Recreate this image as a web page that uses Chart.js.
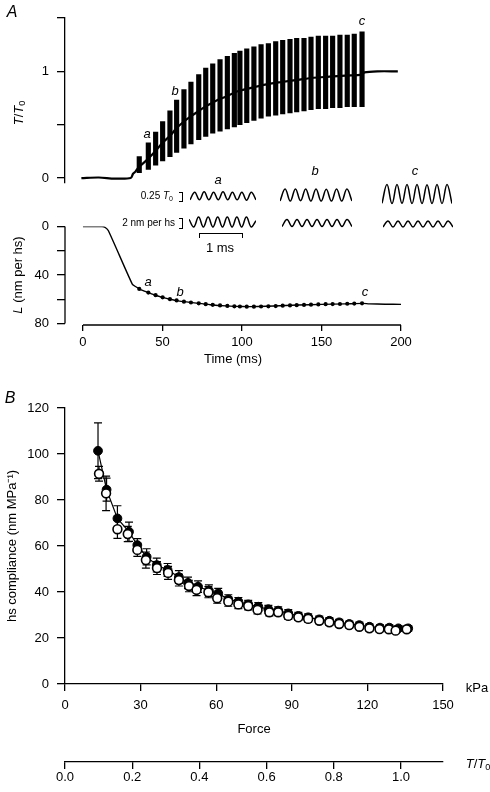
<!DOCTYPE html>
<html>
<head>
<meta charset="utf-8">
<script src="https://cdn.jsdelivr.net/npm/chart.js@4.4.1/dist/chart.umd.min.js"></script>
<style>
  html, body { margin: 0; padding: 0; background: #fff; }
  body { width: 490px; height: 792px; position: relative; overflow: hidden; font-family: "Liberation Sans", Arial, sans-serif; color: #000; }
  canvas { position: absolute; }
  .lbl { position: absolute; transform: translate(-50%, -50%); white-space: nowrap; font-size: 13px; line-height: 1; }
  .it { font-style: italic; }
  .rot { transform: translate(-50%, -50%) rotate(-90deg); }
  .rgt { transform: translate(-100%, -50%); }
  .small { font-size: 10px; }
  .bracket { position: absolute; border: 1.3px solid #000; border-left: none; width: 3px; }
  sub { font-size: 70%; vertical-align: -0.25em; line-height: 0; }
</style>
</head>
<body>
<canvas id="tensionChart" style="left:0;top:0" width="420" height="192"></canvas>
<canvas id="lengthChart" style="left:0;top:190px" width="420" height="180"></canvas>
<canvas id="complianceChart" style="left:0;top:380px" width="490" height="412"></canvas>

<canvas id="insetTa" style="left:190px;top:184px" width="66" height="24"></canvas>
<canvas id="insetTb" style="left:280px;top:183px" width="72" height="24"></canvas>
<canvas id="insetTc" style="left:382px;top:182px" width="70" height="24"></canvas>
<canvas id="insetLa" style="left:189px;top:210px" width="67" height="24"></canvas>
<canvas id="insetLb" style="left:282px;top:211px" width="70" height="24"></canvas>
<canvas id="insetLc" style="left:383px;top:212px" width="70" height="24"></canvas>

<div class="lbl it" style="left:12px;top:12px;font-size:16px">A</div>
<div class="lbl it" style="left:10px;top:398px;font-size:16px">B</div>
<div class="lbl rot" style="left:18px;top:113px"><i>T</i>/<i>T</i><sub>0</sub></div>
<div class="lbl rot" style="left:17px;top:275px"><i>L</i> (nm per hs)</div>

<div class="lbl it" style="left:147px;top:133px">a</div>
<div class="lbl it" style="left:175px;top:90px">b</div>
<div class="lbl it" style="left:362px;top:20px">c</div>
<div class="lbl it" style="left:148px;top:281px">a</div>
<div class="lbl it" style="left:180px;top:291px">b</div>
<div class="lbl it" style="left:365px;top:291px">c</div>
<div class="lbl it" style="left:218px;top:179px">a</div>
<div class="lbl it" style="left:315px;top:170px">b</div>
<div class="lbl it" style="left:415px;top:170px">c</div>

<div class="lbl rgt small" style="left:173px;top:196px">0.25 <i>T</i><sub>0</sub></div>
<div class="bracket" style="left:179px;top:192px;height:8px"></div>
<div class="lbl rgt small" style="left:175px;top:223px">2 nm per hs</div>
<div class="bracket" style="left:179px;top:218px;height:9px"></div>
<div style="position:absolute;left:199px;top:233px;width:42px;height:4px;border:1.3px solid #000;border-bottom:none"></div>
<div class="lbl" style="left:220px;top:247px">1 ms</div>

<div class="lbl" style="left:477px;top:687px">kPa</div>
<div class="lbl" style="left:478px;top:763px"><i>T</i>/<i>T</i><sub>0</sub></div>

<script>
// Panel A: tension trace (mean line + oscillation bursts)
const tensionTime = [-1, 10, 20, 30, 31.5, 33, 35, 41, 46, 50, 55, 59, 63.5, 68, 73, 77, 82, 86, 91, 95, 99, 107, 116, 125, 135, 145, 155, 165, 175.5, 177, 185, 198];
const tensionMean = [0, 0.005, -0.005, 0, 0.04, 0.06, 0.1, 0.18, 0.26, 0.33, 0.4, 0.47, 0.53, 0.58, 0.63, 0.67, 0.71, 0.74, 0.77, 0.8, 0.82, 0.85, 0.88, 0.9, 0.92, 0.94, 0.95, 0.96, 0.97, 0.99, 1.0, 1.0];

const burstTime = [35.4, 41.1, 45.7, 50.1, 54.7, 58.9, 63.5, 67.9, 72.8, 77.2, 81.6, 86.2, 90.8, 95.2, 98.7, 103.0, 107.5, 112.0, 116.6, 121.2, 125.6, 130.2, 134.4, 139.0, 143.4, 148.0, 152.6, 157.0, 161.6, 166.2, 170.6, 175.5];
const burstHigh = [0.2, 0.33, 0.43, 0.53, 0.63, 0.73, 0.83, 0.9, 0.97, 1.03, 1.07, 1.11, 1.14, 1.17, 1.19, 1.21, 1.23, 1.25, 1.26, 1.28, 1.29, 1.3, 1.31, 1.31, 1.32, 1.33, 1.33, 1.33, 1.34, 1.34, 1.35, 1.37];
const burstLow = [0.05, 0.08, 0.12, 0.16, 0.2, 0.24, 0.28, 0.32, 0.36, 0.39, 0.42, 0.44, 0.46, 0.48, 0.5, 0.52, 0.54, 0.56, 0.58, 0.59, 0.6, 0.61, 0.62, 0.63, 0.64, 0.65, 0.65, 0.66, 0.66, 0.67, 0.67, 0.67];

// Panel A: half-sarcomere length trace
const lengthTime = [0, 12, 14, 16, 31, 33, 36, 40, 45, 50, 55, 60, 65, 70, 80, 90, 100, 110, 120, 135, 150, 165, 176, 180, 190, 200];
const lengthValue = [0, 0, 0.8, 3.5, 47.5, 49.5, 51.8, 54, 56.5, 58.4, 60, 61.3, 62.2, 63, 64.5, 65.5, 66, 66, 65.6, 64.8, 64.2, 63.8, 63.4, 63.8, 64.1, 64.2];
const lengthAtBurst = [51.5, 54.5, 56.6, 58.4, 59.9, 61.0, 62.0, 62.7, 63.4, 64.1, 64.6, 65.1, 65.5, 65.8, 66.0, 66.1, 66.1, 66.0, 65.8, 65.6, 65.3, 65.1, 64.9, 64.7, 64.5, 64.3, 64.1, 64.0, 63.9, 63.7, 63.6, 63.4];

// Insets a, b, c (ms, T/T0 and nm per hs)
const insetTime = [0, 0.11, 0.22, 0.33, 0.44, 0.55, 0.66, 0.77, 0.88, 0.99, 1.1, 1.21, 1.32, 1.43, 1.54];
const insetTensionA = [-0.12, 0.12, -0.12, 0.13, -0.12, 0.12, -0.12, 0.13, -0.12, 0.12, -0.12, 0.12, -0.13, 0.12, -0.12];
const insetTensionB = [-0.19, 0.19, -0.19, 0.19, -0.18, 0.19, -0.19, 0.19, -0.19, 0.18, -0.19, 0.19, -0.19, 0.19, -0.19];
const insetTensionC = [-0.29, 0.3, -0.3, 0.3, -0.29, 0.3, -0.3, 0.3, -0.3, 0.29, -0.3, 0.3, -0.3, 0.3, -0.3];
const insetLengthA = [0.6, -1.1, 1.1, -1.1, 1.1, -1.1, 1.1, -1.1, 1.1, -1.1, 1.1, -1.1, 1.1, -1.1, 0.3];
const insetLengthB = [-0.78, 0.78, -0.78, 0.78, -0.78, 0.78, -0.78, 0.78, -0.78, 0.78, -0.78, 0.78, -0.78, 0.78, -0.78];
const insetLengthC = [-0.67, 0.67, -0.67, 0.67, -0.67, 0.67, -0.67, 0.67, -0.67, 0.67, -0.67, 0.67, -0.67, 0.67, -0.67];

// Panel B: compliance vs force
const filledForce = [13.1, 16.5, 20.8, 25.4, 28.7, 32.4, 36.4, 40.7, 45.2, 48.8, 52.8, 57.1, 60.8, 64.8, 68.8, 72.7, 76.7, 80.7, 84.6, 88.6, 92.6, 96.5, 100.9, 104.9, 108.8, 112.8, 116.8, 120.8, 125.0, 128.7, 132.3, 136.2];
const filledCompliance = [101.4, 84.5, 72.0, 66.2, 60.4, 55.3, 51.7, 49.6, 46.5, 44.0, 42.3, 40.6, 39.4, 36.8, 35.8, 34.6, 33.6, 32.5, 31.9, 30.7, 29.6, 29.0, 28.1, 27.5, 26.8, 26.1, 25.6, 24.9, 24.5, 24.5, 24.2, 24.2];
const filledErr = [12.1, 5, 5.5, 4.2, 2.8, 3.5, 3, 2.8, 2.8, 2.5, 2.5, 2.5, 2.2, 2, 1.8, 1.8, 1.8, 1.7, 1.6, 1.6, 1.5, 1.5, 1.4, 1.4, 1.3, 1.3, 1.3, 1.3, 1.2, 1.2, 1.2, 1.2];
const openForce = [13.5, 16.3, 20.8, 24.9, 28.7, 32.1, 36.5, 40.9, 45.2, 49.2, 52.2, 56.9, 60.4, 64.8, 68.8, 72.7, 76.4, 81.1, 84.6, 88.6, 92.6, 96.5, 100.9, 104.9, 108.8, 112.8, 116.8, 120.8, 124.8, 128.5, 131.2, 135.6];
const openCompliance = [91.4, 82.9, 67.3, 65.2, 58.3, 53.9, 50.4, 48.3, 45.2, 42.6, 40.9, 39.9, 37.3, 35.8, 34.6, 33.9, 32.2, 31.2, 31.2, 29.6, 29.0, 28.3, 27.5, 26.8, 26.1, 25.6, 24.9, 24.2, 23.9, 23.8, 23.2, 23.8];
const openErr = [3.2, 7.5, 4, 3.3, 2.8, 3.5, 2.8, 2.8, 2.6, 2.5, 2.5, 2.4, 2.2, 2, 1.8, 1.7, 1.7, 1.6, 1.5, 1.5, 1.4, 1.4, 1.3, 1.3, 1.2, 1.2, 1.2, 1.2, 1.1, 1.1, 1.1, 1.1];
const forceTicks = [0, 30, 60, 90, 120, 150];
const relTensionTicks = [0, 0.2, 0.4, 0.6, 0.8, 1.0];

Chart.defaults.font.family = '"Liberation Sans", Arial, sans-serif';
Chart.defaults.font.size = 13;
Chart.defaults.color = '#000';
Chart.defaults.animation = false;
Chart.defaults.responsive = false;
Chart.defaults.plugins.legend.display = false;
Chart.defaults.plugins.tooltip.enabled = false;

// fixed axis size, no label overflow padding
const fixAxis = size => scale => {
    if (scale.isHorizontal()) scale.height = size; else scale.width = size;
    scale.paddingLeft = scale.paddingRight = scale.paddingTop = scale.paddingBottom = 0;
};
const setTicks = values => scale => { scale.ticks = values.map(v => ({ value: v })); };

// draws axis lines that only span part of the scale
const axisLines = {
    id: 'axisLines',
    afterDraw(chart, args, opts) {
        const ctx = chart.ctx;
        ctx.save();
        ctx.strokeStyle = '#000';
        ctx.lineWidth = 1.3;
        opts.lines.forEach(l => {
            const s = chart.scales[l.scale];
            ctx.beginPath();
            if (s.isHorizontal()) {
                ctx.moveTo(s.getPixelForValue(l.from), s.top);
                ctx.lineTo(s.getPixelForValue(l.to), s.top);
            } else {
                ctx.moveTo(s.right, s.getPixelForValue(l.from));
                ctx.lineTo(s.right, s.getPixelForValue(l.to));
            }
            ctx.stroke();
        });
        ctx.restore();
    }
};

const tickGrid = len => ({ drawOnChartArea: false, color: '#000', lineWidth: 1.3, tickLength: len });

// Chart 1: tension
new Chart(document.getElementById('tensionChart'), {
    type: 'bar',
    data: {
        datasets: [
            {
                type: 'line',
                data: tensionTime.map((t, i) => ({ x: t, y: tensionMean[i] })),
                borderColor: '#000',
                borderWidth: 2.2,
                pointRadius: 0,
                tension: 0.3
            },
            {
                type: 'bar',
                data: burstTime.map((t, i) => ({ x: t, y: [burstLow[i], burstHigh[i]] })),
                backgroundColor: '#000',
                barThickness: 4.5
            }
        ]
    },
    options: {
        layout: { padding: { top: 18, right: 19, bottom: 9.7, left: 0 }, autoPadding: false },
        scales: {
            x: { type: 'linear', min: -11.3, max: 200, display: false, offset: false, grid: { offset: false } },
            y: {
                type: 'linear',
                min: -0.04,
                max: 1.5,
                afterFit: fixAxis(65),
                afterBuildTicks: setTicks([0, 0.5, 1, 1.5]),
                ticks: { padding: 8, callback: v => (v === 0 || v === 1) ? String(v) : '' },
                grid: tickGrid(8),
                border: { color: '#000', width: 1.3 }
            }
        }
    }
});

// Chart 2: length
new Chart(document.getElementById('lengthChart'), {
    type: 'line',
    data: {
        datasets: [
            {
                data: lengthTime.map((t, i) => ({ x: t, y: lengthValue[i] })),
                borderColor: '#000',
                borderWidth: 1.4,
                pointRadius: 0,
                tension: 0.2
            },
            {
                data: burstTime.map((t, i) => ({ x: t, y: lengthAtBurst[i] })),
                showLine: false,
                pointRadius: 2.1,
                pointBackgroundColor: '#000',
                pointBorderWidth: 0
            }
        ]
    },
    plugins: [axisLines],
    options: {
        layout: { padding: { top: 36.5, right: 19, bottom: 0, left: 0 }, autoPadding: false },
        plugins: { axisLines: { lines: [{ scale: 'x', from: 0, to: 200 }, { scale: 'y', from: 0, to: 80 }] } },
        scales: {
            x: {
                type: 'linear',
                min: -11.3,
                max: 200,
                afterFit: fixAxis(45),
                afterBuildTicks: setTicks([0, 50, 100, 150, 200]),
                ticks: { padding: 4 },
                grid: tickGrid(6),
                border: { display: false },
                title: { display: true, text: 'Time (ms)', padding: { top: 0, bottom: 3 } }
            },
            y: {
                type: 'linear',
                reverse: true,
                min: 0,
                max: 81.24,
                afterFit: fixAxis(65),
                afterBuildTicks: setTicks([0, 20, 40, 60, 80]),
                ticks: { padding: 8, callback: v => (v % 40 === 0) ? String(v) : '' },
                grid: tickGrid(8),
                border: { display: false }
            }
        }
    }
});

// Insets a, b, c
function drawWave(id, values, range) {
    new Chart(document.getElementById(id), {
        type: 'line',
        data: {
            datasets: [{
                data: insetTime.map((t, i) => ({ x: t, y: values[i] })),
                borderColor: '#000',
                borderWidth: 1.5,
                pointRadius: 0,
                tension: 0.4
            }]
        },
        options: {
            layout: { padding: 0, autoPadding: false },
            scales: {
                x: { type: 'linear', min: 0, max: 1.54, display: false },
                y: { type: 'linear', min: -range, max: range, display: false }
            }
        }
    });
}
drawWave('insetTa', insetTensionA, 0.375);
drawWave('insetTb', insetTensionB, 0.375);
drawWave('insetTc', insetTensionC, 0.375);
drawWave('insetLa', insetLengthA, 2.67);
drawWave('insetLb', insetLengthB, 2.67);
drawWave('insetLc', insetLengthC, 2.67);

// Chart 3: hs compliance vs force
const errorBars = {
    id: 'errorBars',
    beforeDatasetsDraw(chart) {
        const { ctx, scales: { x, y } } = chart;
        const sets = [
            { f: filledForce, c: filledCompliance, e: filledErr },
            { f: openForce, c: openCompliance, e: openErr }
        ];
        ctx.save();
        ctx.strokeStyle = '#000';
        ctx.lineWidth = 1.2;
        sets.forEach(s => {
            s.f.forEach((fv, i) => {
                const px = x.getPixelForValue(fv);
                const top = y.getPixelForValue(s.c[i] + s.e[i]);
                const bot = y.getPixelForValue(s.c[i] - s.e[i]);
                ctx.beginPath();
                ctx.moveTo(px, top); ctx.lineTo(px, bot);
                ctx.moveTo(px - 4, top); ctx.lineTo(px + 4, top);
                ctx.moveTo(px - 4, bot); ctx.lineTo(px + 4, bot);
                ctx.stroke();
            });
        });
        ctx.restore();
    }
};

new Chart(document.getElementById('complianceChart'), {
    type: 'scatter',
    data: {
        datasets: [
            {
                data: openForce.map((f, i) => ({ x: f, y: openCompliance[i] })),
                pointRadius: 4.4,
                pointBackgroundColor: '#fff',
                pointBorderColor: '#000',
                pointBorderWidth: 1.6
            },
            {
                data: filledForce.map((f, i) => ({ x: f, y: filledCompliance[i] })),
                showLine: true,
                borderColor: '#000',
                borderWidth: 1.2,
                pointRadius: 4.4,
                pointBackgroundColor: '#000',
                pointBorderColor: '#000',
                pointBorderWidth: 1
            }
        ]
    },
    plugins: [errorBars],
    options: {
        layout: { padding: { top: 28, right: 47, bottom: 0, left: 0 }, autoPadding: false },
        scales: {
            x: {
                type: 'linear',
                min: 0,
                max: 150,
                weight: 0,
                afterFit: fixAxis(78),
                afterBuildTicks: setTicks(forceTicks),
                ticks: { padding: 7 },
                grid: tickGrid(7),
                border: { color: '#000', width: 1.3 },
                title: { display: true, text: 'Force', padding: { top: 0, bottom: 25 } }
            },
            x2: {
                type: 'linear',
                position: 'bottom',
                min: 0,
                max: 1.125,
                weight: 1,
                afterFit: fixAxis(30),
                afterBuildTicks: setTicks(relTensionTicks),
                ticks: { padding: 1, callback: v => v.toFixed(1) },
                grid: tickGrid(7),
                border: { color: '#000', width: 1.3 }
            },
            y: {
                type: 'linear',
                min: 0,
                max: 120,
                afterFit: fixAxis(65),
                ticks: { stepSize: 20, padding: 8 },
                grid: tickGrid(8),
                border: { color: '#000', width: 1.3 },
                title: { display: true, text: 'hs compliance (nm MPa⁻¹)', padding: { top: 5, bottom: 0 } }
            }
        }
    }
});
</script>
</body>
</html>
